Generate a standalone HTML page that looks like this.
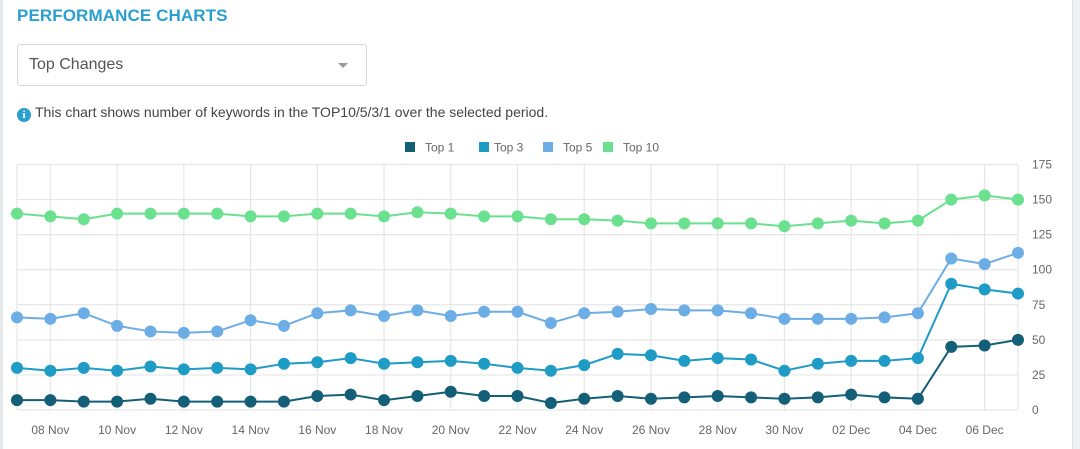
<!DOCTYPE html>
<html><head><meta charset="utf-8"><style>
body{margin:0;width:1080px;height:449px;overflow:hidden;background:#fff;font-family:"Liberation Sans",sans-serif;position:relative}
.strip{position:absolute;top:0;bottom:0;left:0;width:3px;background:#e6e9ec}
.rstrip{position:absolute;top:0;bottom:0;left:1072px;width:8px;background:#eef0f2;border-left:1px solid #e2e2e2}
h1{position:absolute;left:17px;top:6px;margin:0;font-size:17px;font-weight:bold;color:#2b9fcf;letter-spacing:0.1px}
.dd{position:absolute;left:17px;top:44px;width:348px;height:40px;border:1px solid #d4d7da;border-radius:3px}
.dd span{position:absolute;left:11px;top:11px;font-size:16px;color:#555}
.dd i{position:absolute;right:18px;top:18px;border-left:5px solid transparent;border-right:5px solid transparent;border-top:5px solid #999}
.info{position:absolute;left:17px;top:104px;font-size:14px;color:#444}
.info b{display:inline-block;width:14px;height:14px;border-radius:50%;background:#2b9fcf;color:#fff;font-size:11px;text-align:center;line-height:14px;font-family:"Liberation Serif",serif;vertical-align:-1px;margin-right:4px}
</style></head><body>
<div class="strip"></div>
<div class="rstrip"></div>
<h1>PERFORMANCE CHARTS</h1>
<div class="dd"><span>Top Changes</span><i></i></div>
<div class="info"><b>i</b>This chart shows number of keywords in the TOP10/5/3/1 over the selected period.</div>
<svg id="c" width="1080" height="449" style="position:absolute;left:0;top:0"></svg>
<script>
const dates=["07 Nov","08 Nov","09 Nov","10 Nov","11 Nov","12 Nov","13 Nov","14 Nov","15 Nov","16 Nov","17 Nov","18 Nov","19 Nov","20 Nov","21 Nov","22 Nov","23 Nov","24 Nov","25 Nov","26 Nov","27 Nov","28 Nov","29 Nov","30 Nov","01 Dec","02 Dec","03 Dec","04 Dec","05 Dec","06 Dec","07 Dec"];
const top1=[7,7,6,6,8,6,6,6,6,10,11,7,10,13,10,10,5,8,10,8,9,10,9,8,9,11,9,8,45,46,50];
const top3=[30,28,30,28,31,29,30,29,33,34,37,33,34,35,33,30,28,32,40,39,35,37,36,28,33,35,35,37,90,86,83];
const top5=[66,65,69,60,56,55,56,64,60,69,71,67,71,67,70,70,62,69,70,72,71,71,69,65,65,65,66,69,108,104,112];
const top10=[140,138,136,140,140,140,140,138,138,140,140,138,141,140,138,138,136,136,135,133,133,133,133,131,133,135,133,135,150,153,150];
const yTicks=[0,25,50,75,100,125,150,175];
const seriesNames=["Top 1","Top 3","Top 5","Top 10"];
const colors=["#145f78","#1e9cc6","#6cade6","#6be08f"];
const svg=document.getElementById('c');const NS="http://www.w3.org/2000/svg";
const X0=17,X1=1018,Y0=410,Y1=164.5,YMAX=175;
const xs=i=>X0+(X1-X0)*i/(dates.length-1);
const ys=v=>Y0-(Y0-Y1)*v/YMAX;
function mk(t,a,p){const e=document.createElementNS(NS,t);for(const k in a)e.setAttribute(k,a[k]);(p||svg).appendChild(e);return e;}
yTicks.forEach(v=>{
 const l=mk('line',{x1:X0,x2:X1,y1:ys(v),y2:ys(v),stroke:'#e6e6e6','stroke-width':1.2});
 
 
 const t=mk('text',{x:1032,y:ys(v)+4,'font-size':12,fill:'#666'});t.textContent=v;
 
 
});
const el=mk('line',{x1:X0,x2:X0,y1:Y1,y2:Y0,stroke:'#e6e6e6','stroke-width':1.2});


const er=mk('line',{x1:X1,x2:X1,y1:Y1,y2:Y0,stroke:'#e6e6e6','stroke-width':1.2});


dates.forEach((d,i)=>{if(i%2==1){
 const l=mk('line',{x1:xs(i),x2:xs(i),y1:Y1,y2:Y0,stroke:'#e6e6e6','stroke-width':1.2});
 
 
 const t=mk('text',{x:xs(i),y:434,'font-size':12,fill:'#666','text-anchor':'middle'});t.textContent=d;
 
 
}});
const data=[top1,top3,top5,top10];
for(let s=3;s>=0;s--){
 const g=mk('g',{});
 
 
 const p=mk('polyline',{points:data[s].map((v,i)=>xs(i)+','+ys(v)).join(' '),fill:'none',stroke:colors[s],'stroke-width':2},g);
 
 
 data[s].forEach((v,i)=>{const c=mk('circle',{cx:xs(i),cy:ys(v),r:6,fill:colors[s]},g);
  
  });
}
const lx=[405,479,543,603];
const tx=[425,494,563,623];
seriesNames.forEach((n,i)=>{
 const g=mk('g',{});
 
 
 mk('rect',{x:lx[i],y:142,width:10,height:10,fill:colors[i]},g);
 const t=mk('text',{x:tx[i],y:151.5,'font-size':12,fill:'#666'},g);t.textContent=n;
});
</script>
</body></html>
